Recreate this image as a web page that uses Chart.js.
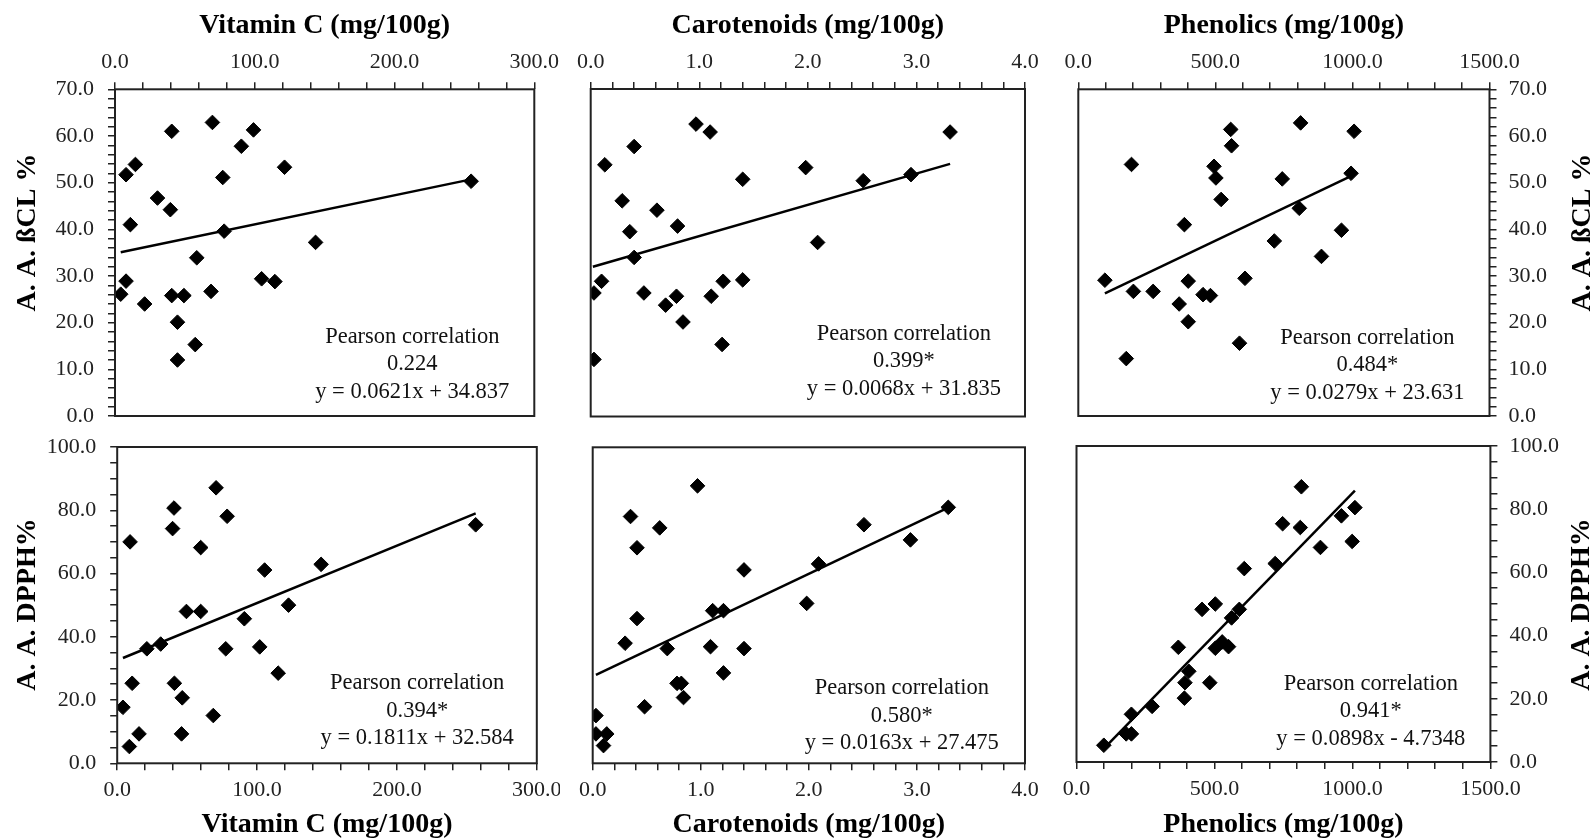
<!DOCTYPE html>
<html>
<head>
<meta charset="utf-8">
<script src="https://cdn.jsdelivr.net/npm/chart.js@4.4.1/dist/chart.umd.min.js"></script>
<style>
  html, body { margin: 0; padding: 0; background: #fff; }
  #wrap { position: relative; width: 1596px; height: 839px; overflow: hidden; }
  canvas { position: absolute; }
</style>
</head>
<body>
<div id="wrap">
  <canvas id="c1" width="560" height="432" style="left:0;top:0"></canvas>
  <canvas id="c2" width="490" height="432" style="left:560px;top:0"></canvas>
  <canvas id="c3" width="546" height="432" style="left:1050px;top:0"></canvas>
  <canvas id="c4" width="560" height="407" style="left:0;top:432px"></canvas>
  <canvas id="c5" width="490" height="407" style="left:560px;top:432px"></canvas>
  <canvas id="c6" width="546" height="407" style="left:1050px;top:432px"></canvas>
</div>
<script>
// axis titles
const xTitles = ['Vitamin C (mg/100g)', 'Carotenoids (mg/100g)', 'Phenolics (mg/100g)'];
const yTitles = ['A. A. ßCL %', 'A. A. DPPH%'];

// Vitamin C vs A.A. BCL
const vitcBclX = [4.1, 7.9, 7.9, 11.0, 14.6, 21.2, 30.4, 39.6, 40.6, 40.6, 44.7, 44.7, 49.3, 57.4, 58.5, 68.7, 69.7, 77.1, 78.1, 90.4, 99.1, 104.9, 114.4, 121.3, 143.5, 254.8];
const vitcBclY = [26.1, 51.7, 28.9, 41.0, 53.9, 24.0, 46.7, 44.2, 61.0, 25.8, 20.1, 12.0, 25.8, 15.3, 33.9, 26.7, 62.9, 51.1, 39.6, 57.8, 61.3, 29.4, 28.8, 53.3, 37.2, 50.3];
const vitcBclTrendX = [4.1, 254.8];
const vitcBclTrendY = [35.1, 50.7];

// Carotenoids vs A.A. BCL
const carBclX = [0.03, 0.03, 0.10, 0.13, 0.29, 0.36, 0.40, 0.40, 0.49, 0.61, 0.69, 0.79, 0.80, 0.85, 0.97, 1.10, 1.11, 1.22, 1.21, 1.40, 1.40, 1.98, 2.09, 2.51, 2.95, 3.31];
const carBclY = [26.4, 12.2, 28.9, 53.8, 46.1, 39.5, 57.7, 34.0, 26.4, 44.1, 23.8, 25.7, 40.7, 20.2, 62.5, 60.8, 25.7, 28.9, 15.4, 50.7, 29.2, 53.2, 37.2, 50.4, 51.7, 60.8];
const carBclTrendX = [0.02, 3.31];
const carBclTrendY = [32.0, 54.0];

// Phenolics vs A.A. BCL
const phenBclX = [97, 175, 194, 201, 273, 368, 387, 401, 401, 455, 482, 495, 502, 521, 556, 559, 588, 608, 715, 744, 806, 811, 887, 960, 995, 1006];
const phenBclY = [29.1, 12.3, 53.9, 26.7, 26.7, 24.0, 41.0, 28.9, 20.2, 26.0, 25.8, 53.5, 51.0, 46.4, 61.4, 57.9, 15.6, 29.5, 37.5, 50.8, 44.5, 62.8, 34.2, 39.8, 52.0, 61.0];
const phenBclTrendX = [97, 1006];
const phenBclTrendY = [26.3, 51.7];

// Vitamin C vs A.A. DPPH
const vitcDpphX = [4.1, 8.7, 9.2, 10.7, 15.6, 21.2, 31.1, 40.6, 39.6, 40.9, 46.0, 46.5, 49.5, 59.7, 59.7, 68.7, 70.7, 77.6, 78.6, 90.9, 101.9, 105.4, 115.1, 122.5, 145.8, 256.3];
const vitcDpphY = [17.7, 5.3, 70.0, 25.3, 9.3, 36.2, 37.7, 80.7, 74.2, 25.3, 9.3, 20.7, 48.0, 68.2, 48.0, 15.1, 87.1, 36.2, 78.1, 45.7, 36.8, 61.1, 28.5, 50.0, 62.9, 75.4];
const vitcDpphTrendX = [4.1, 256.3];
const vitcDpphTrendY = [33.3, 79.0];

// Carotenoids vs A.A. DPPH
const carDpphX = [0.03, 0.03, 0.13, 0.10, 0.30, 0.35, 0.41, 0.41, 0.48, 0.62, 0.69, 0.78, 0.82, 0.84, 0.97, 1.09, 1.11, 1.21, 1.21, 1.40, 1.40, 1.98, 2.09, 2.51, 2.94, 3.29];
const carDpphY = [15.1, 9.3, 9.3, 5.6, 38.0, 78.1, 68.2, 45.8, 17.9, 74.5, 36.3, 25.3, 25.3, 20.8, 87.8, 36.9, 48.3, 48.3, 28.6, 61.2, 36.3, 50.6, 63.1, 75.5, 70.7, 81.0];
const carDpphTrendX = [0.03, 3.29];
const carDpphTrendY = [28.0, 80.9];

// Phenolics vs A.A. DPPH
const phenDpphX = [99, 180, 199, 199, 274, 369, 391, 393, 407, 455, 483, 503, 503, 528, 551, 562, 590, 608, 720, 747, 811, 815, 884, 960, 999, 1009];
const phenDpphY = [5.3, 8.9, 8.9, 15.1, 17.6, 36.3, 20.2, 25.1, 28.7, 48.3, 25.1, 50.0, 36.0, 38.0, 36.5, 45.6, 48.3, 61.2, 62.8, 75.4, 74.2, 87.1, 67.9, 77.9, 69.8, 80.5];
const phenDpphTrendX = [99, 1009];
const phenDpphTrendY = [4.2, 85.9];

// correlation text
const pearsonR = ['0.224', '0.399*', '0.484*', '0.394*', '0.580*', '0.941*'];
const equations = ['y = 0.0621x + 34.837', 'y = 0.0068x + 31.835', 'y = 0.0279x + 23.631',
                   'y = 0.1811x + 32.584', 'y = 0.0163x + 27.475', 'y = 0.0898x - 4.7348'];

const serif = '"Liberation Serif", "Times New Roman", serif';
const tickFont = { family: serif, size: 22 };
const titleFont = { family: serif, size: 28, weight: 'bold' };

// only label the major ticks, keep the minor tick marks
function every(major) {
    return function(v) {
        const r = v / major;
        return Math.abs(r - Math.round(r)) < 1e-6 ? v.toFixed(1) : '';
    };
}

// frame, correlation text and rotated y title
const panelDecor = {
    id: 'panelDecor',
    afterDraw(chart, args, o) {
        const ctx = chart.ctx;
        const a = chart.chartArea;
        ctx.save();
        ctx.strokeStyle = '#222';
        ctx.lineWidth = 2;
        ctx.strokeRect(a.left, a.top, a.right - a.left, a.bottom - a.top);

        ctx.fillStyle = '#111';
        ctx.font = '22.5px ' + serif;
        ctx.textAlign = 'center';
        ctx.textBaseline = 'middle';
        const cx = a.left + o.fx * (a.right - a.left);
        const cy = a.top + o.fy * (a.bottom - a.top);
        o.lines.forEach((t, i) => ctx.fillText(t, cx, cy + i * 27.5));

        if (o.yTitle) {
            ctx.translate(o.yTitleX, o.yTitleY);
            ctx.rotate(-Math.PI / 2);
            ctx.font = 'bold 28px ' + serif;
            ctx.fillStyle = '#000';
            ctx.fillText(o.yTitle, 0, 0);
        }
        ctx.restore();
    }
};

function makePanel(id, p) {
    const pts = p.xs.map((x, i) => ({ x: x, y: p.ys[i] }));
    const trend = p.tx.map((x, i) => ({ x: x, y: p.ty[i] }));
    const isTop = p.xPos === 'top';
    new Chart(document.getElementById(id), {
        type: 'scatter',
        data: {
            datasets: [{
                data: pts,
                pointStyle: 'rectRot',
                pointRadius: 7.3,
                backgroundColor: '#000',
                borderColor: '#000',
                borderWidth: 1
            }, {
                data: trend,
                showLine: true,
                pointRadius: 0,
                borderColor: '#000',
                borderWidth: 2.5
            }]
        },
        options: {
            responsive: false,
            animation: false,
            events: [],
            layout: { padding: p.pad },
            plugins: {
                legend: { display: false },
                tooltip: { enabled: false },
                panelDecor: {
                    fx: p.fx, fy: p.fy,
                    lines: ['Pearson correlation', p.r, p.eq],
                    yTitle: p.yTitle, yTitleX: p.yTitleX, yTitleY: p.yTitleY
                }
            },
            scales: {
                x: {
                    type: 'linear',
                    position: p.xPos,
                    min: 0,
                    max: p.xMax,
                    ticks: {
                        stepSize: p.xStep,
                        autoSkip: false,
                        maxRotation: 0,
                        padding: 7,
                        color: '#222',
                        font: tickFont,
                        callback: every(p.xMajor)
                    },
                    grid: { drawOnChartArea: false, drawTicks: true, tickLength: 7, color: '#222', lineWidth: 1.5 },
                    border: { display: false },
                    title: {
                        display: true,
                        text: p.xTitle,
                        color: '#000',
                        font: titleFont,
                        padding: isTop ? { top: 9, bottom: 0 } : { top: 0, bottom: -3 }
                    },
                    afterFit: s => { s.height = p.xH; s.paddingLeft = 0; s.paddingRight = 0; }
                },
                y: {
                    type: 'linear',
                    display: p.yPos !== 'none',
                    position: p.yPos === 'right' ? 'right' : 'left',
                    min: 0,
                    max: p.yMax,
                    ticks: {
                        stepSize: p.yStep,
                        autoSkip: false,
                        padding: p.yPos === 'right' ? 12 : 14,
                        color: '#222',
                        font: tickFont,
                        callback: every(p.yMajor)
                    },
                    grid: { drawOnChartArea: false, drawTicks: true, tickLength: 7, color: '#222', lineWidth: 1.5 },
                    border: { display: false },
                    afterFit: s => { s.width = p.yW; s.paddingTop = 0; s.paddingBottom = 0; }
                }
            }
        },
        plugins: [panelDecor]
    });
}

const topY = { yMax: 70, yStep: 2, yMajor: 10 };
const botY = { yMax: 100, yStep: 5, yMajor: 20 };
const vitAxis = { xMax: 300, xStep: 20, xMajor: 100 };
const carAxis = { xMax: 4, xStep: 0.2, xMajor: 1 };
const phenAxis = { xMax: 1500, xStep: 100, xMajor: 500 };

makePanel('c1', Object.assign({}, topY, vitAxis, {
    xs: vitcBclX, ys: vitcBclY, tx: vitcBclTrendX, ty: vitcBclTrendY,
    xPos: 'top', xH: 89.3, xTitle: xTitles[0], yPos: 'left', yW: 115,
    pad: { left: 0, top: 0, right: 25.7, bottom: 16 },
    r: pearsonR[0], eq: equations[0], fx: 0.709, fy: 0.758,
    yTitle: yTitles[0], yTitleX: 28, yTitleY: 232.5
}));
makePanel('c2', Object.assign({}, topY, carAxis, {
    xs: carBclX, ys: carBclY, tx: carBclTrendX, ty: carBclTrendY,
    xPos: 'top', xH: 89, xTitle: xTitles[1], yPos: 'none', yW: 0,
    pad: { left: 30.7, top: 0, right: 25, bottom: 15.5 },
    r: pearsonR[1], eq: equations[1], fx: 0.721, fy: 0.748
}));
makePanel('c3', Object.assign({}, topY, phenAxis, {
    xs: phenBclX, ys: phenBclY, tx: phenBclTrendX, ty: phenBclTrendY,
    xPos: 'top', xH: 89.3, xTitle: xTitles[2], yPos: 'right', yW: 106.5,
    pad: { left: 28.3, top: 0, right: 0, bottom: 16 },
    r: pearsonR[2], eq: equations[2], fx: 0.703, fy: 0.761,
    yTitle: yTitles[0], yTitleX: 533, yTitleY: 232.5
}));
makePanel('c4', Object.assign({}, botY, vitAxis, {
    xs: vitcDpphX, ys: vitcDpphY, tx: vitcDpphTrendX, ty: vitcDpphTrendY,
    xPos: 'bottom', xH: 75.7, xTitle: xTitles[0], yPos: 'left', yW: 117.2,
    pad: { left: 0, top: 15, right: 23.2, bottom: 0 },
    r: pearsonR[3], eq: equations[3], fx: 0.715, fy: 0.747,
    yTitle: yTitles[1], yTitleX: 28, yTitleY: 172.5
}));
makePanel('c5', Object.assign({}, botY, carAxis, {
    xs: carDpphX, ys: carDpphY, tx: carDpphTrendX, ty: carDpphTrendY,
    xPos: 'bottom', xH: 75.7, xTitle: xTitles[1], yPos: 'none', yW: 0,
    pad: { left: 32.7, top: 15.3, right: 25, bottom: 0 },
    r: pearsonR[4], eq: equations[4], fx: 0.715, fy: 0.763
}));
makePanel('c6', Object.assign({}, botY, phenAxis, {
    xs: phenDpphX, ys: phenDpphY, tx: phenDpphTrendX, ty: phenDpphTrendY,
    xPos: 'bottom', xH: 77, xTitle: xTitles[2], yPos: 'right', yW: 105.6,
    pad: { left: 26.5, top: 14, right: 0, bottom: 0 },
    r: pearsonR[5], eq: equations[5], fx: 0.711, fy: 0.752,
    yTitle: yTitles[1], yTitleX: 531.5, yTitleY: 172.5
}));
</script>
</body>
</html>
